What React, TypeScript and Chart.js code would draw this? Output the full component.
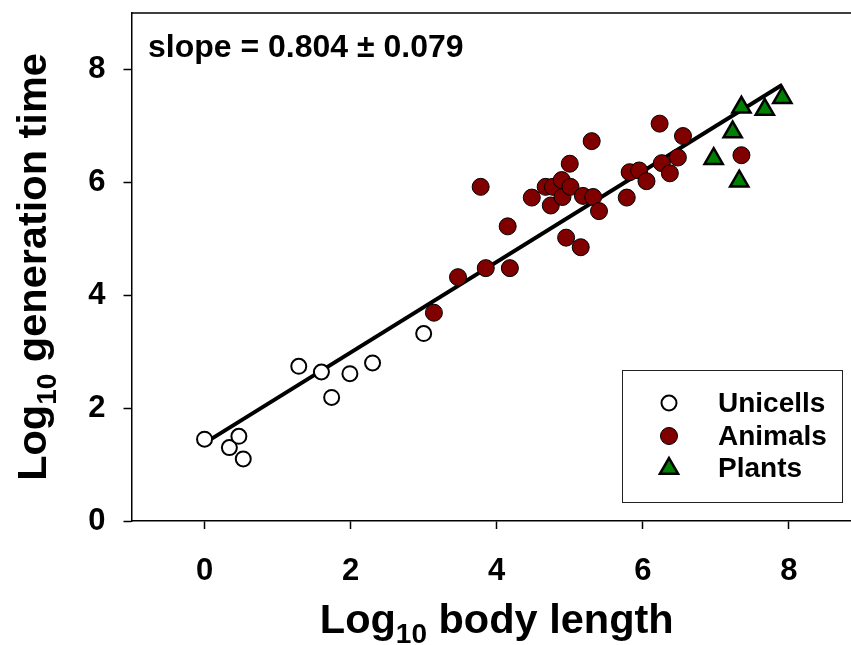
import React, { useEffect, useRef } from "react";
import { Chart, registerables } from "chart.js";

Chart.register(...registerables);

const FONT = "'Liberation Sans', Arial, Helvetica, sans-serif";

const xTicks = [0, 2, 4, 6, 8];
const yTicks = [0, 2, 4, 6, 8];

const unicellsX = [0.0, 0.34, 0.47, 0.53, 1.29, 1.6, 1.74, 1.99, 2.3, 3.0];
const unicellsY = [1.45, 1.3, 1.5, 1.1, 2.74, 2.64, 2.19, 2.61, 2.8, 3.32];

const animalsX = [
  3.14, 3.47, 3.85, 4.18, 4.15, 3.78, 4.48, 4.74, 4.67, 4.77, 4.89, 4.9, 5.01, 5.0, 5.18,
  5.32, 5.4, 4.95, 5.15, 5.3, 5.78, 5.82, 5.95, 6.05, 6.23, 6.55, 6.26, 6.48, 6.37, 7.35,
];
const animalsY = [
  3.69, 4.32, 4.48, 4.48, 5.22, 5.92, 5.73, 5.59, 5.92, 5.92, 6.04, 5.74, 5.92, 6.33, 5.76,
  5.74, 5.49, 5.02, 4.85, 6.73, 5.73, 6.18, 6.21, 6.02, 7.04, 6.82, 6.34, 6.44, 6.16, 6.48,
];

const plantsX = [7.35, 7.67, 7.91, 7.23, 6.97, 7.32];
const plantsY = [7.33, 7.29, 7.5, 6.89, 6.42, 6.02];

const fitX = [0, 7.91];
const fitY = [1.38, 7.73];

const seriesNames = ["Unicells", "Animals", "Plants"];
const slopeText = "slope = 0.804 \u00b1 0.079";

const toPts = (xs: number[], ys: number[]) => xs.map((x, i) => ({ x, y: ys[i] }));

const decorPlugin = {
  id: "decor",
  afterDraw(chart: any) {
    const { ctx, chartArea } = chart;
    const xs = chart.scales.x;
    ctx.save();
    // top frame line
    ctx.strokeStyle = "#000";
    ctx.lineWidth = 1.5;
    ctx.beginPath();
    ctx.moveTo(chartArea.left, chartArea.top);
    ctx.lineTo(chartArea.right + 2, chartArea.top);
    ctx.stroke();

    // slope annotation
    ctx.fillStyle = "#000";
    ctx.textBaseline = "alphabetic";
    ctx.textAlign = "left";
    ctx.font = `bold 32px ${FONT}`;
    ctx.fillText(slopeText, 148, 57);

    // x title with subscript
    const big = `bold 41.5px ${FONT}`;
    const small = `bold 28px ${FONT}`;
    ctx.font = big;
    const wLog = ctx.measureText("Log").width;
    const wRestX = ctx.measureText(" body length").width;
    ctx.font = small;
    const wSub = ctx.measureText("10").width;
    const totalX = wLog + wSub + wRestX;
    const cx = xs.getPixelForValue(4);
    const sx = cx - totalX / 2;
    const by = 633;
    ctx.font = big;
    ctx.fillText("Log", sx, by);
    ctx.font = small;
    ctx.fillText("10", sx + wLog, by + 10);
    ctx.font = big;
    ctx.fillText(" body length", sx + wLog + wSub, by);

    // y title rotated
    ctx.font = big;
    const wRestY = ctx.measureText(" generation time").width;
    const totalY = wLog + wSub + wRestY;
    const cy = (chartArea.top + chartArea.bottom) / 2;
    ctx.save();
    ctx.translate(46, cy);
    ctx.rotate(-Math.PI / 2);
    const sy = -totalY / 2;
    ctx.font = big;
    ctx.fillText("Log", sy, 0);
    ctx.font = small;
    ctx.fillText("10", sy + wLog, 10);
    ctx.font = big;
    ctx.fillText(" generation time", sy + wLog + wSub, 0);
    ctx.restore();

    // legend box
    const lx = 622.5, ly = 370.5, lw = 220, lh = 132;
    ctx.fillStyle = "#fff";
    ctx.fillRect(lx, ly, lw, lh);
    ctx.strokeStyle = "#222";
    ctx.lineWidth = 1;
    ctx.strokeRect(lx, ly, lw, lh);
    const rows = [403, 436, 468.5];
    const symX = 669;
    ctx.font = `bold 28px ${FONT}`;
    ctx.textBaseline = "middle";
    rows.forEach((ry, i) => {
      ctx.beginPath();
      if (i === 0) {
        ctx.arc(symX, ry, 7.5, 0, Math.PI * 2);
        ctx.fillStyle = "#fff";
        ctx.fill();
        ctx.lineWidth = 2;
        ctx.strokeStyle = "#000";
        ctx.stroke();
      } else if (i === 1) {
        ctx.arc(symX, ry, 8.5, 0, Math.PI * 2);
        ctx.fillStyle = "#800000";
        ctx.fill();
        ctx.lineWidth = 1;
        ctx.strokeStyle = "#000";
        ctx.stroke();
      } else {
        const r = 10.5;
        for (let k = 0; k < 3; k++) {
          const a = (k * 2 * Math.PI) / 3;
          const px = symX + Math.sin(a) * r;
          const py = ry - Math.cos(a) * r;
          if (k === 0) ctx.moveTo(px, py);
          else ctx.lineTo(px, py);
        }
        ctx.closePath();
        ctx.fillStyle = "#008000";
        ctx.fill();
        ctx.lineWidth = 2.5;
        ctx.strokeStyle = "#000";
        ctx.stroke();
      }
      ctx.fillStyle = "#000";
      ctx.fillText(seriesNames[i], 718, ry + 1);
    });
    ctx.restore();
  },
};

const zeroPad = (s: any) => {
  s.paddingTop = 0;
  s.paddingBottom = 0;
  s.paddingLeft = 0;
  s.paddingRight = 0;
};

export default function App() {
  const ref = useRef<HTMLCanvasElement | null>(null);

  useEffect(() => {
    if (!ref.current) return;
    const tickFont = { family: FONT, size: 31, weight: "bold" as const };
    const chart = new Chart(ref.current, {
      type: "scatter",
      data: {
        datasets: [
          {
            label: seriesNames[0],
            data: toPts(unicellsX, unicellsY),
            pointStyle: "circle",
            pointRadius: 7.5,
            pointBackgroundColor: "#ffffff",
            pointBorderColor: "#000000",
            pointBorderWidth: 2,
            order: 0,
          },
          {
            label: seriesNames[1],
            data: toPts(animalsX, animalsY),
            pointStyle: "circle",
            pointRadius: 8.5,
            pointBackgroundColor: "#800000",
            pointBorderColor: "#000000",
            pointBorderWidth: 1,
            order: 0,
          },
          {
            label: seriesNames[2],
            data: toPts(plantsX, plantsY),
            pointStyle: "triangle",
            pointRadius: 10.5,
            pointBackgroundColor: "#008000",
            pointBorderColor: "#000000",
            pointBorderWidth: 2.5,
            order: 0,
          },
          {
            type: "line",
            label: "fit",
            data: toPts(fitX, fitY),
            borderColor: "#000000",
            borderWidth: 4,
            pointRadius: 0,
            showLine: true,
            fill: false,
            order: 5,
          } as any,
        ],
      },
      options: {
        animation: false,
        responsive: false,
        devicePixelRatio: 1,
        layout: { autoPadding: false, padding: { top: 13, left: 0, right: 0, bottom: 0 } },
        plugins: { legend: { display: false }, tooltip: { enabled: false } },
        scales: {
          x: {
            type: "linear",
            min: -1,
            max: 8.85,
            afterBuildTicks: (s: any) => {
              s.ticks = xTicks.map((v) => ({ value: v }));
            },
            afterFit: (s: any) => {
              s.height = 124;
              zeroPad(s);
            },
            grid: {
              display: true,
              drawOnChartArea: false,
              drawTicks: true,
              tickLength: 8,
              tickColor: "#000",
              tickWidth: 1.5,
            },
            border: { display: true, color: "#000", width: 1.5 },
            ticks: { font: tickFont, color: "#000", padding: 24, maxRotation: 0 },
          },
          y: {
            type: "linear",
            min: 0,
            max: 9,
            afterBuildTicks: (s: any) => {
              s.ticks = yTicks.map((v) => ({ value: v }));
            },
            afterFit: (s: any) => {
              s.width = 131.5;
              zeroPad(s);
            },
            grid: {
              display: true,
              drawOnChartArea: false,
              drawTicks: true,
              tickLength: 8,
              tickColor: "#000",
              tickWidth: 1.5,
            },
            border: { display: true, color: "#000", width: 1.5 },
            ticks: { font: tickFont, color: "#000", padding: 18 },
          },
        },
      },
      plugins: [decorPlugin],
    });
    return () => chart.destroy();
  }, []);

  return (
    <div style={{ position: "absolute", left: 0, top: 0, width: 851, height: 645, background: "#fff", overflow: "hidden" }}>
      <canvas ref={ref} width={851} height={645} style={{ display: "block" }} />
    </div>
  );
}
